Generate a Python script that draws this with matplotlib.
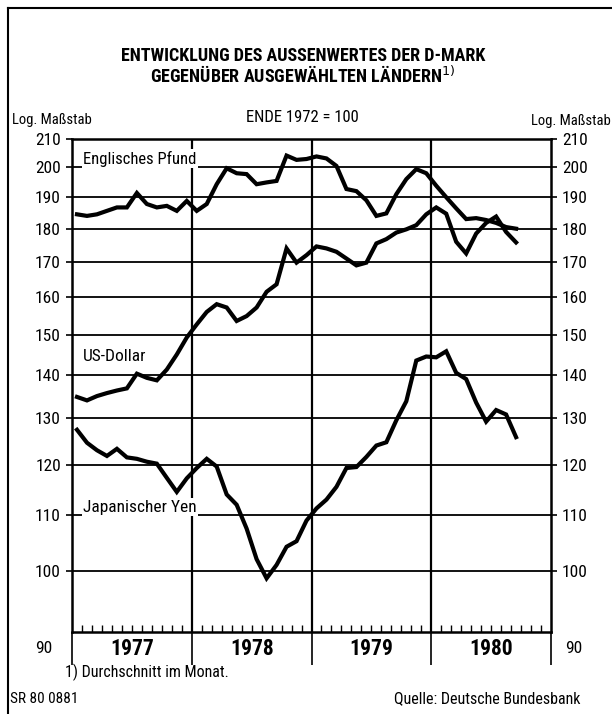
import matplotlib
matplotlib.use("Agg")
import matplotlib.pyplot as plt
from matplotlib import font_manager
from matplotlib.ticker import FixedLocator, NullFormatter, NullLocator

# monthly averages, Jan 1977 .. Sep 1980 (end 1972 = 100)
pfund = [184.5, 184.0, 184.5, 185.6, 186.7, 186.7, 191.4, 187.8, 186.7, 187.2, 185.6, 188.8,
         185.6, 187.8, 194.3, 199.7, 198.0, 197.7, 194.3, 194.9, 195.4, 204.1, 202.6, 202.9,
         203.8, 203.1, 200.5, 192.7, 192.0, 189.0, 184.0, 184.8, 191.0, 196.0, 199.4, 198.0,
         193.8, 190.0, 186.4, 183.0, 183.3, 182.7, 181.8, 180.5, 180.0]
dollar = [134.8, 134.0, 135.0, 135.7, 136.3, 136.8, 140.3, 139.3, 138.7, 141.3, 145.0, 149.3,
          152.7, 156.0, 158.1, 157.2, 153.6, 154.9, 157.2, 161.5, 163.6, 174.0, 169.8, 172.0,
          174.6, 174.0, 173.0, 171.0, 169.0, 169.8, 175.5, 176.8, 178.8, 179.8, 181.1, 184.5,
          186.7, 184.7, 176.0, 172.5, 178.5, 181.8, 183.8, 179.0, 175.8]
yen = [127.4, 124.6, 123.0, 121.8, 123.3, 121.5, 121.2, 120.6, 120.2, 117.3, 114.5, 117.2,
       119.3, 121.2, 119.6, 114.0, 112.0, 107.5, 102.0, 98.7, 101.0, 104.2, 105.2, 109.0,
       111.3, 113.0, 115.5, 119.3, 119.5, 121.6, 124.0, 124.7, 129.5, 133.8, 143.5, 144.5,
       144.3, 145.8, 140.5, 139.0, 133.5, 129.2, 131.8, 130.8, 125.8]
years = ["1977", "1978", "1979", "1980"]
yticks = [100, 110, 120, 130, 140, 150, 160, 170, 180, 190, 200, 210]

# pick a narrow sans if there is one, else Liberation Sans (Arial metrics)
names = {f.name for f in font_manager.fontManager.ttflist}
font = "Liberation Sans"
for cand in ["Liberation Sans Narrow", "Roboto Condensed", "Open Sans Condensed", "DejaVu Sans Condensed"]:
    if cand in names:
        font = cand
        break
plt.rcParams["font.family"] = [font, "DejaVu Sans"]

fig = plt.figure(figsize=(6.12, 7.14), dpi=100)
ax = fig.add_axes([72/612, 1-632/714, 479/612, 493/714])

months = [i + 0.5 for i in range(len(pfund))]
for vals in (pfund, dollar, yen):
    ax.plot(months, vals, color="black", lw=3.0, solid_joinstyle="miter", zorder=4)

ax.set_yscale("log")
ax.set_ylim(90, 210)
ax.set_xlim(0, 48)
ax.yaxis.set_major_locator(FixedLocator(yticks))
ax.yaxis.set_minor_locator(NullLocator())
ax.yaxis.set_minor_formatter(NullFormatter())
ax.set_yticklabels([str(t) for t in yticks])
ax.tick_params(axis="y", which="major", labelsize=12.5, left=True, right=True,
               labelleft=True, labelright=True, direction="out", length=4, width=1.2, pad=4)

for t in yticks[:-1]:
    ax.axhline(t, color="black", lw=1.3, zorder=1)
for m in (12, 24, 36):
    ax.axvline(m, color="black", lw=1.6, zorder=1)

ax.xaxis.set_major_locator(FixedLocator([0, 12, 24, 36, 48]))
ax.xaxis.set_minor_locator(FixedLocator([m for m in range(1, 48) if m % 12]))
ax.xaxis.set_major_formatter(NullFormatter())
ax.tick_params(axis="x", which="major", direction="out", length=24, width=1.2)
ax.tick_params(axis="x", which="minor", direction="in", length=5, width=1.0)

for s in ax.spines.values():
    s.set_linewidth(1.8)

# year labels
for i, y in enumerate(years):
    ax.text(12 * i + 6, -0.034, y, transform=ax.get_xaxis_transform(), ha="center", va="center",
            fontsize=15.5, fontweight="bold")

# 90 labels sit below the axis
ax.text(-0.04, -0.033, "90", transform=ax.transAxes, ha="right", va="center", fontsize=12.5)
ax.text(1.03, -0.033, "90", transform=ax.transAxes, ha="left", va="center", fontsize=12.5)

box = dict(facecolor="white", edgecolor="none", pad=1)
ax.text(1.1, 203.0, "Englisches Pfund", fontsize=12, ha="left", va="center", bbox=box, zorder=3)
ax.text(1.1, 144.5, "US-Dollar", fontsize=12.5, ha="left", va="center", bbox=box, zorder=3)
ax.text(1.1, 111.5, "Japanischer Yen", fontsize=12.5, ha="left", va="center", bbox=box, zorder=3)

# titles and notes
fig.text(0.495, 1-56/714, "ENTWICKLUNG DES AUSSENWERTES DER D-MARK", ha="center", va="center",
         fontsize=13, fontweight="bold")
fig.text(0.495, 1-75/714, "GEGENÜBER AUSGEWÄHLTEN LÄNDERN$^{1)}$", ha="center", va="center",
         fontsize=13, fontweight="bold")
fig.text(302/612, 1-117/714, "ENDE 1972 = 100", ha="center", va="center", fontsize=12)
fig.text(12/612, 1-120/714, "Log. Maßstab", ha="left", va="center", fontsize=10.5)
fig.text(611/612, 1-121/714, "Log. Maßstab", ha="right", va="center", fontsize=10.5)
fig.text(65/612, 1-672/714, "1) Durchschnitt im Monat.", ha="left", va="center", fontsize=11.5)
fig.text(10/612, 1-699/714, "SR 80 0881", ha="left", va="center", fontsize=11)
fig.text(580/612, 1-699/714, "Quelle: Deutsche Bundesbank", ha="right", va="center", fontsize=11.5)

# outer frame (left and top edges)
fig.add_artist(plt.Line2D([8/612, 8/612], [0, 1-8/714], color="black", lw=1.5))
fig.add_artist(plt.Line2D([8/612, 1], [1-8/714, 1-8/714], color="black", lw=1.5))

fig.savefig("out.png", dpi=100)
